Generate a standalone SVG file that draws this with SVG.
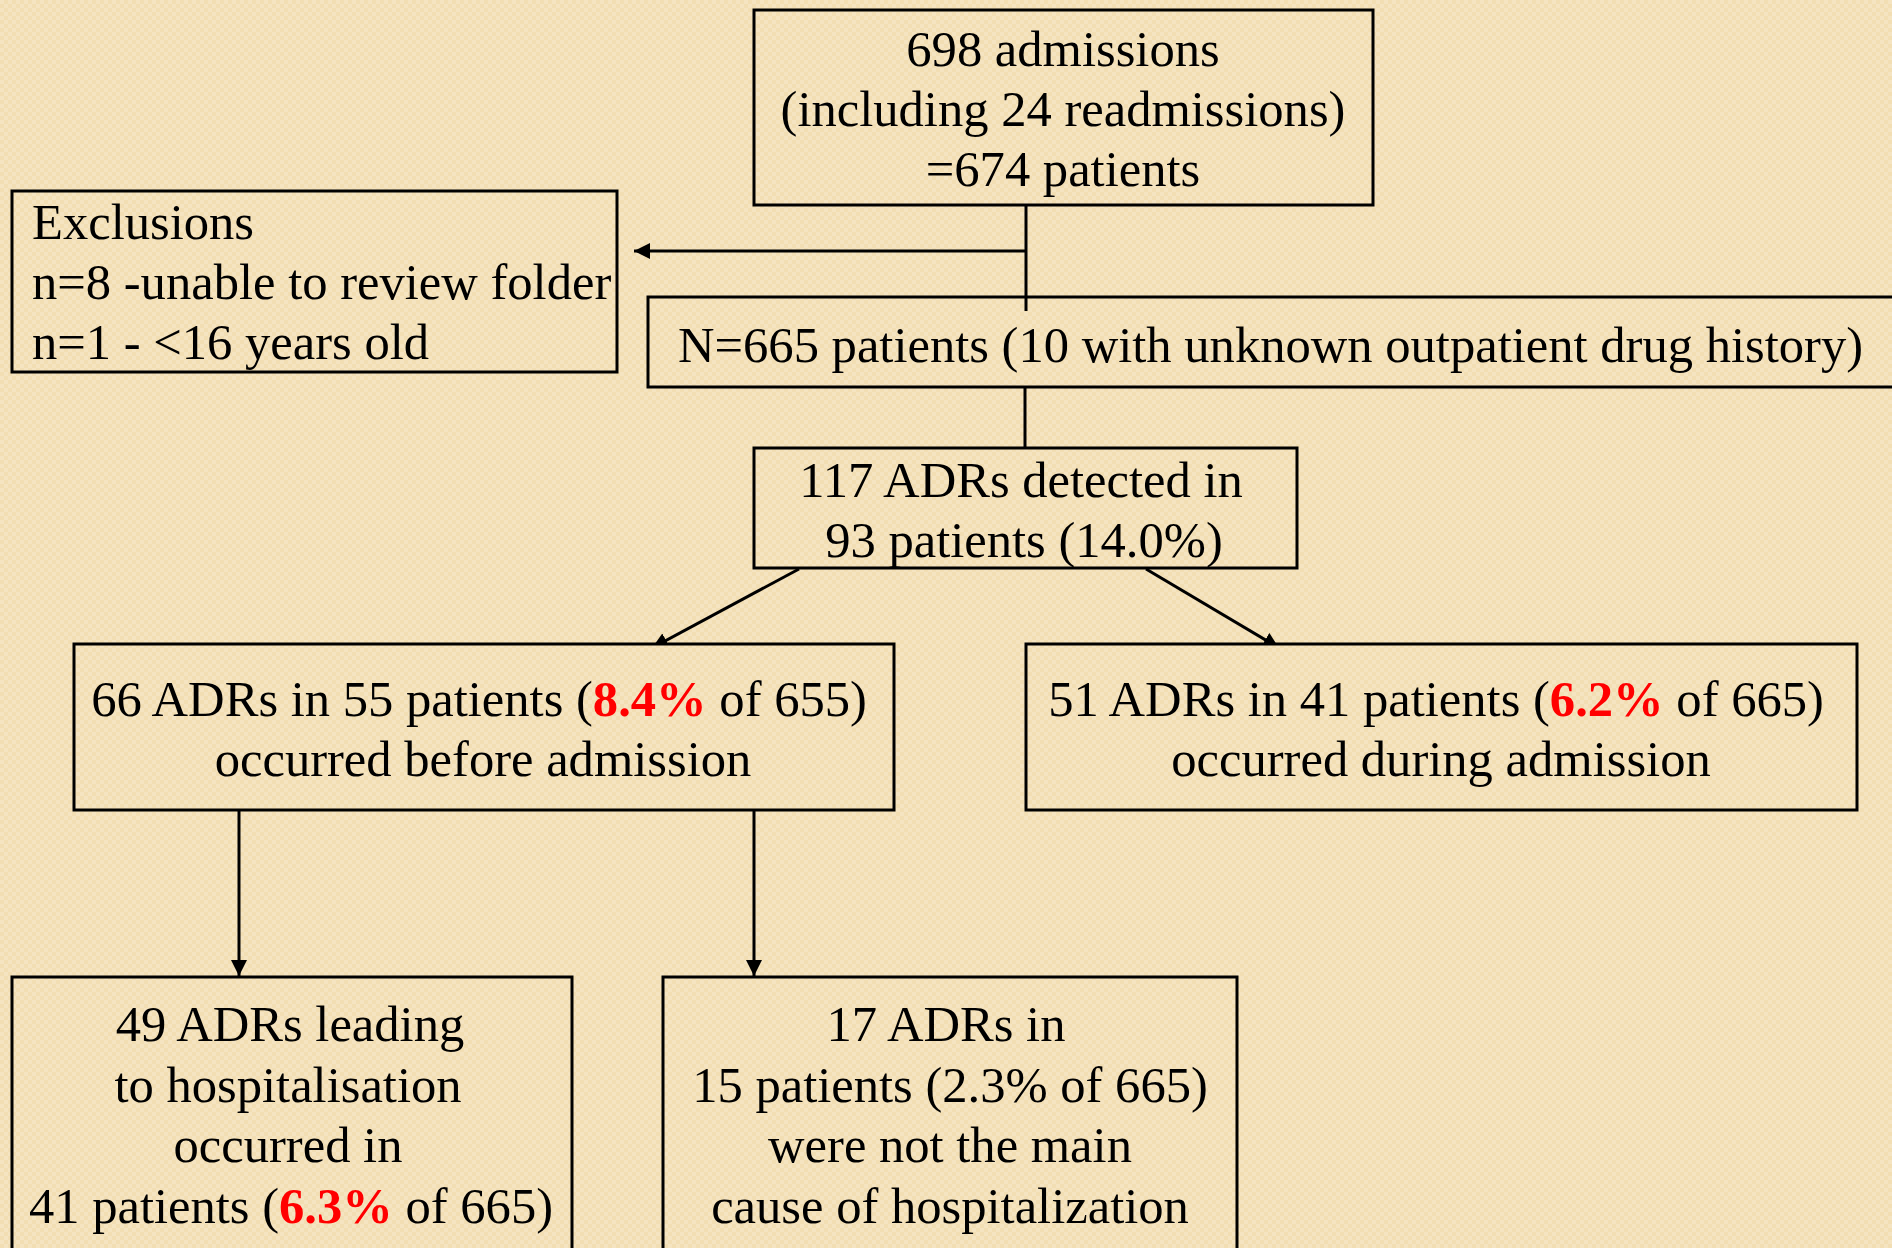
<svg xmlns="http://www.w3.org/2000/svg" width="1892" height="1248" viewBox="0 0 1892 1248">
  <defs>
    <pattern id="bg" patternUnits="userSpaceOnUse" x="0" y="0" width="8" height="8">
      <rect width="8" height="8" fill="#F2DEB3"/>
      <rect x="0" y="0" width="4" height="4" fill="#F5E4C1"/>
      <rect x="4" y="4" width="4" height="4" fill="#F5E4C1"/>
    </pattern>
    <marker id="arr" markerUnits="userSpaceOnUse" markerWidth="18" markerHeight="18" refX="16" refY="8" orient="auto">
      <path d="M0,0 L16,8 L0,16 z" fill="#000"/>
    </marker>
    <clipPath id="aboveRow2">
      <rect x="0" y="0" width="1892" height="644"/>
    </clipPath>
  </defs>
  <style>
    .box { fill: url(#bg); stroke: #000; stroke-width: 3; }
    .t { font-family: "Liberation Serif", "Times New Roman", serif; font-size: 50.6px; fill: #000; }
    .c { text-anchor: middle; }
    .red { fill: #FF0000; font-weight: bold; }
    .conn { stroke: #000; stroke-width: 3; fill: none; }
  </style>

  <rect x="0" y="0" width="1892" height="1248" fill="url(#bg)"/>

  <g id="node-admissions">
    <rect class="box" x="754" y="10" width="619" height="195"/>
    <text class="t c" x="1063" y="66">698 admissions</text>
    <text class="t c" x="1063" y="126">(including 24 readmissions)</text>
    <text class="t c" x="1063" y="186">=674 patients</text>
  </g>

  <g id="node-exclusions">
    <rect class="box" x="12" y="191" width="605" height="181"/>
    <text class="t" x="32" y="239">Exclusions</text>
    <text class="t" x="32" y="299">n=8 -unable to review folder</text>
    <text class="t" x="32" y="359">n=1 - &lt;16 years old</text>
  </g>

  <g id="node-n665">
    <rect class="box" x="648" y="297" width="1260" height="90"/>
    <text class="t" x="678" y="362">N=665 patients (10 with unknown outpatient drug history)</text>
  </g>

  <g id="node-117adrs">
    <rect class="box" x="754" y="448" width="543" height="120"/>
    <text class="t c" x="1021" y="497">117 ADRs detected in</text>
    <text class="t c" x="1024" y="557">93 patients (14.0%)</text>
  </g>

  <g id="node-before">
    <rect class="box" x="74" y="644" width="820" height="166"/>
    <text class="t c" x="479" y="716">66 ADRs in 55 patients (<tspan class="red">8.4%</tspan> of 655)</text>
    <text class="t c" x="483" y="776">occurred before admission</text>
  </g>

  <g id="node-during">
    <rect class="box" x="1026" y="644" width="831" height="166"/>
    <text class="t c" x="1436" y="716">51 ADRs in 41 patients (<tspan class="red">6.2%</tspan> of 665)</text>
    <text class="t c" x="1441" y="776">occurred during admission</text>
  </g>

  <g id="node-hospitalisation">
    <rect class="box" x="12" y="977" width="560" height="290"/>
    <text class="t c" x="290" y="1041">49 ADRs leading</text>
    <text class="t c" x="288" y="1102">to hospitalisation</text>
    <text class="t c" x="288" y="1162">occurred in</text>
    <text class="t c" x="291" y="1223">41 patients (<tspan class="red">6.3%</tspan> of 665)</text>
  </g>

  <g id="node-notmain">
    <rect class="box" x="663" y="977" width="574" height="290"/>
    <text class="t c" x="946" y="1041">17 ADRs in</text>
    <text class="t c" x="950" y="1102">15 patients (2.3% of 665)</text>
    <text class="t c" x="950" y="1162">were not the main</text>
    <text class="t c" x="950" y="1223">cause of hospitalization</text>
  </g>

  <g id="connectors">
    <line class="conn" x1="1026" y1="205" x2="1026" y2="311"/>
    <line class="conn" x1="1026" y1="251" x2="634" y2="251" marker-end="url(#arr)"/>
    <line class="conn" x1="1025" y1="387" x2="1025" y2="448"/>
    <g clip-path="url(#aboveRow2)">
      <line class="conn" x1="799" y1="569" x2="652" y2="648" marker-end="url(#arr)"/>
      <line class="conn" x1="1146" y1="569" x2="1279" y2="648" marker-end="url(#arr)"/>
    </g>
    <line class="conn" x1="239" y1="811" x2="239" y2="976" marker-end="url(#arr)"/>
    <line class="conn" x1="754" y1="811" x2="754" y2="976" marker-end="url(#arr)"/>
  </g>
</svg>
